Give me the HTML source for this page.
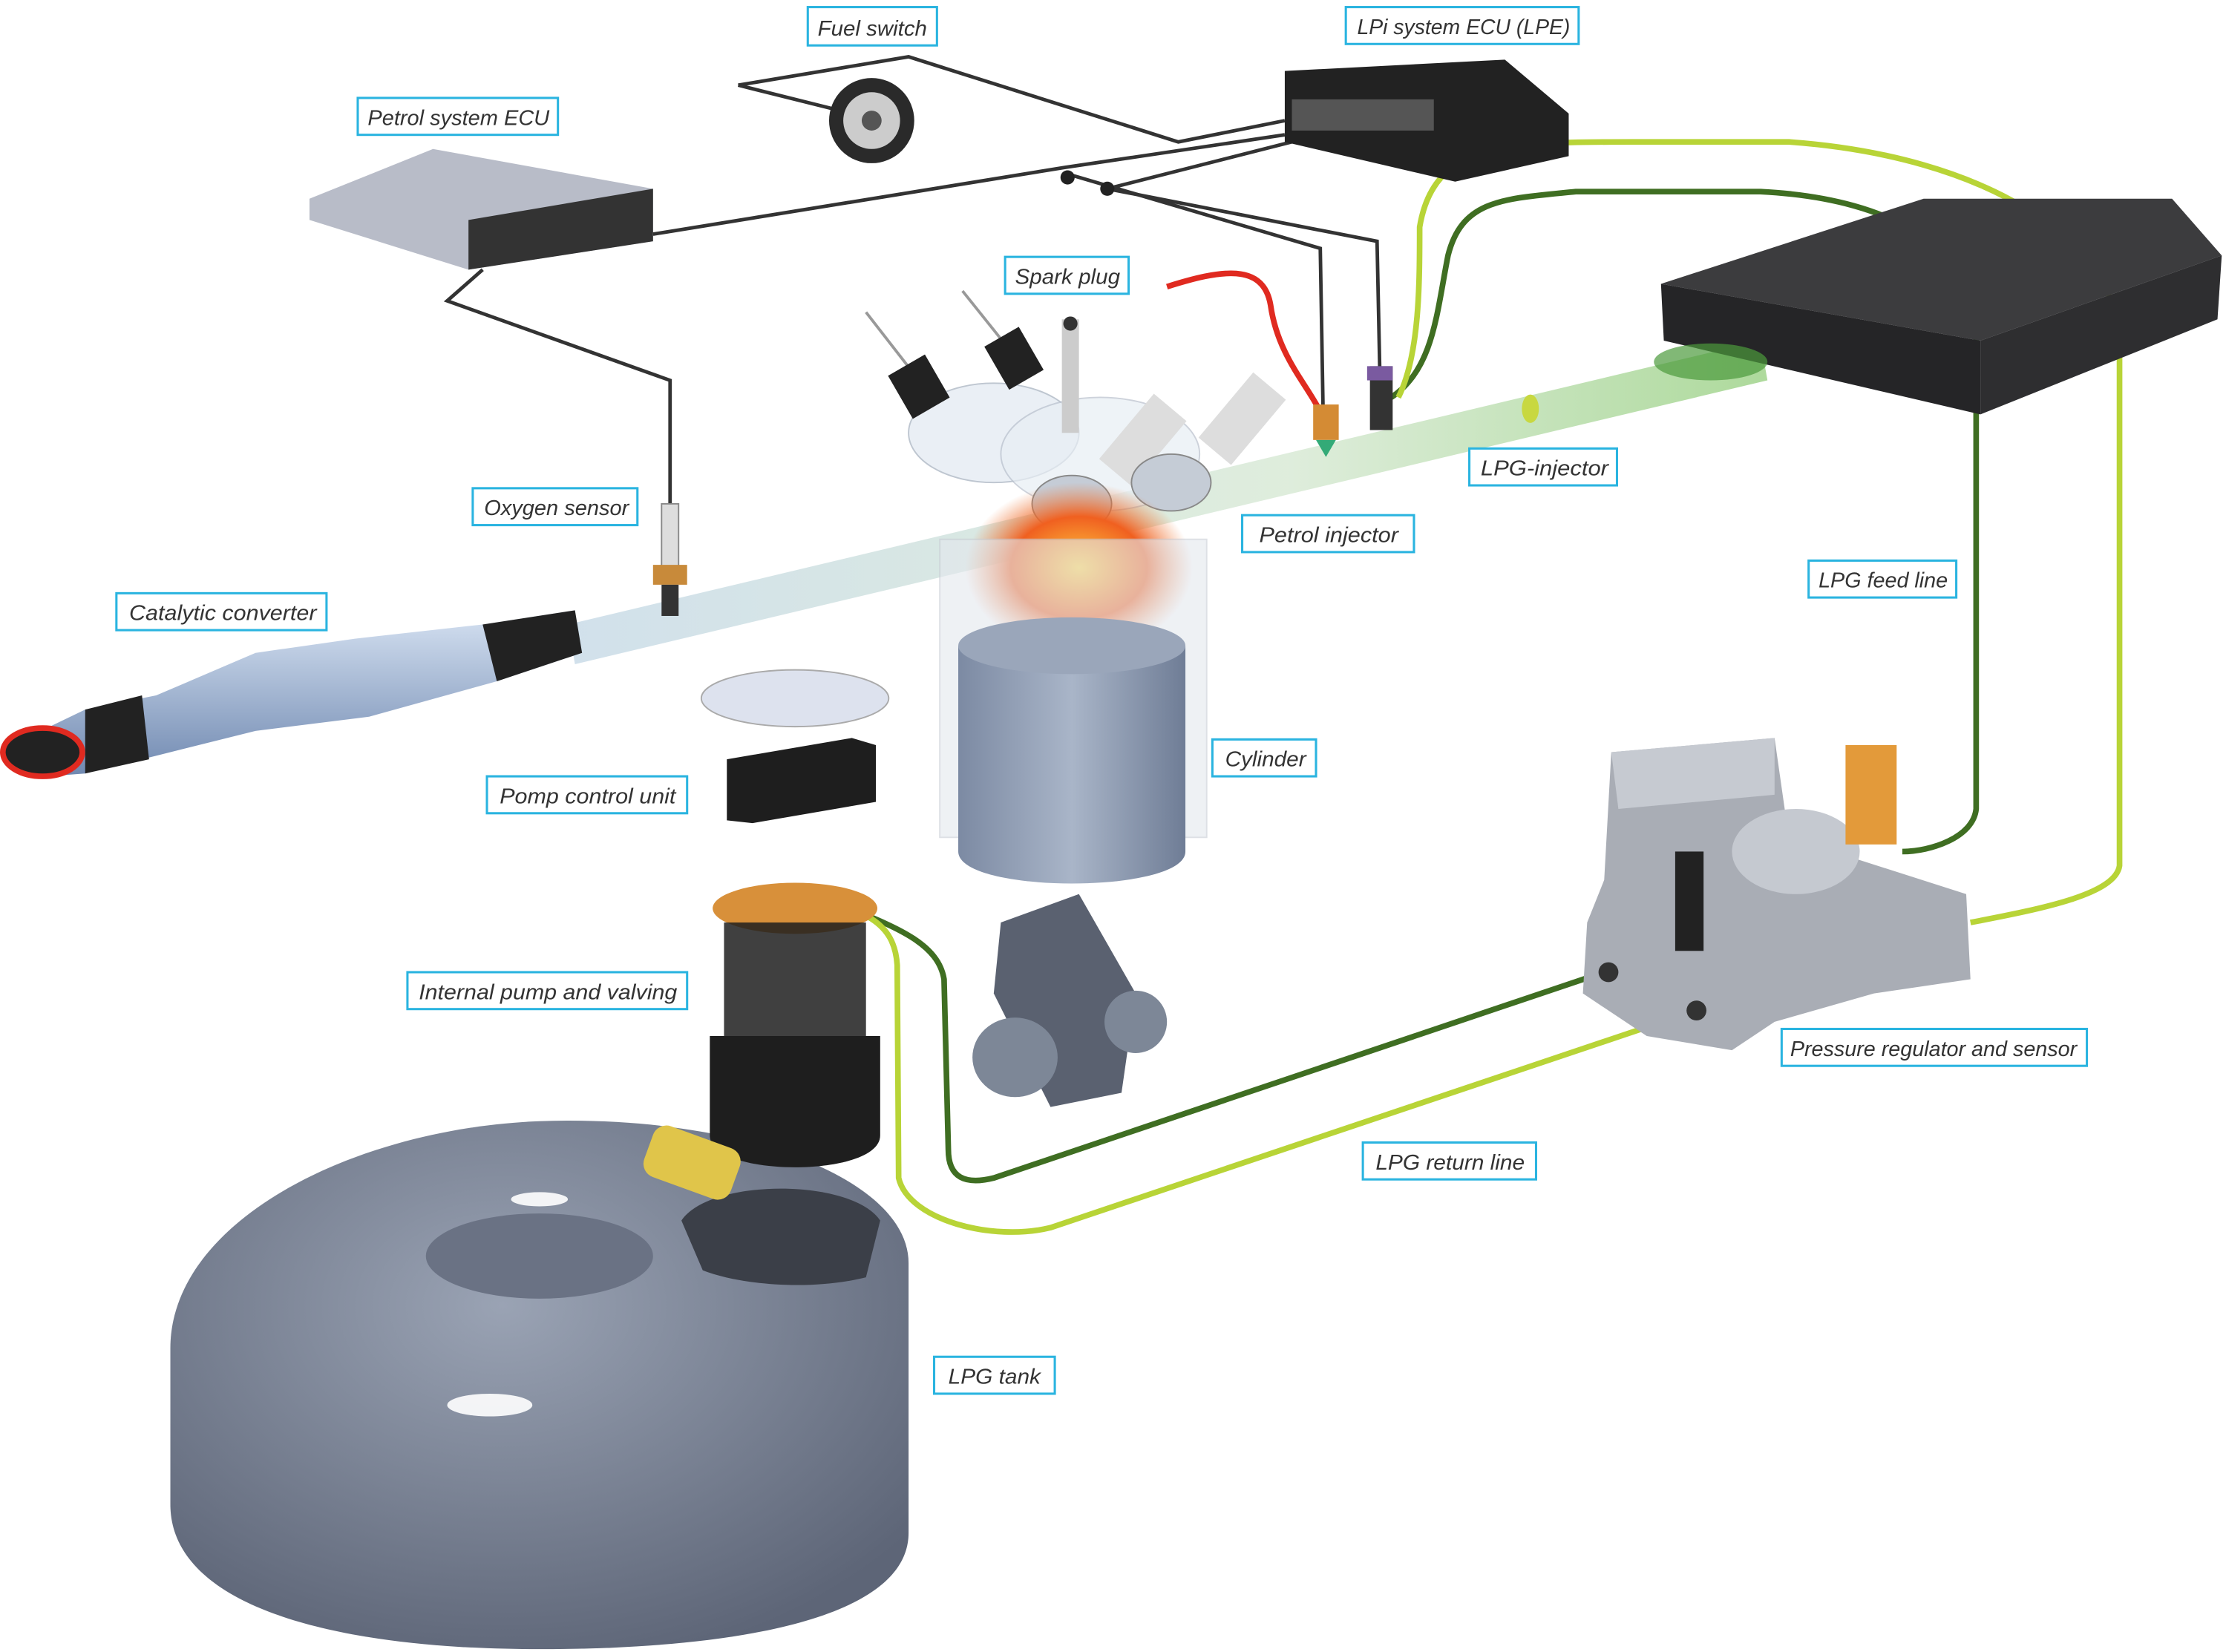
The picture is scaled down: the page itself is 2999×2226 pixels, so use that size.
<!DOCTYPE html>
<html><head><meta charset="utf-8"><style>
html,body{margin:0;padding:0;background:#fff}
svg{display:block}
text{font-family:"Liberation Sans",sans-serif;font-style:italic;font-size:15px;fill:#333}
.lb{fill:#fff;stroke:#2ab4e0;stroke-width:1.6}
.w{fill:none;stroke:#333;stroke-width:2.5}
</style></head><body>
<svg width="2999" height="2226" viewBox="0 0 1568 1164" preserveAspectRatio="none" xmlns="http://www.w3.org/2000/svg">
<defs>
<linearGradient id="pipe" x1="0" y1="0" x2="1" y2="0"><stop offset="0" stop-color="#c9dbe8"/><stop offset="0.6" stop-color="#d9ead6"/><stop offset="1" stop-color="#9fd38a"/></linearGradient>
<radialGradient id="tank" cx="0.45" cy="0.35" r="0.7"><stop offset="0" stop-color="#9aa3b4"/><stop offset="1" stop-color="#5d6577"/></radialGradient>
<linearGradient id="cat" x1="0" y1="0" x2="0" y2="1"><stop offset="0" stop-color="#d6e2f2"/><stop offset="1" stop-color="#6f88b0"/></linearGradient>
<radialGradient id="fire" cx="0.5" cy="0.5" r="0.5"><stop offset="0" stop-color="#ffd040"/><stop offset="0.6" stop-color="#f06020"/><stop offset="1" stop-color="#f08040" stop-opacity="0"/></radialGradient>
<linearGradient id="cyl" x1="0" y1="0" x2="1" y2="0"><stop offset="0" stop-color="#7c8aa3"/><stop offset="0.5" stop-color="#a9b5c8"/><stop offset="1" stop-color="#6f7d96"/></linearGradient>
</defs>

<polygon points="400,440 1240,240 1245,268 405,468" fill="url(#pipe)" opacity="0.85"/>

<polyline class="w" points="520,60 640,40 830,100 905,85"/>
<polyline class="w" points="520,60 600,80"/>
<polyline class="w" points="460,165 750,118 905,95"/>
<polyline class="w" points="750,122 930,175 932,290"/>
<polyline class="w" points="780,133 970,170 972,265"/>
<polyline class="w" points="780,133 910,100"/>
<polyline class="w" points="340,190 315,212 472,268 472,360"/>
<circle cx="752" cy="125" r="5" fill="#222"/><circle cx="780" cy="133" r="5" fill="#222"/>
<path d="M822,202 C860,190 890,185 895,215 C900,250 920,270 930,290" fill="none" stroke="#e02a20" stroke-width="4"/>

<path d="M980,280 C1010,260 1012,220 1020,180 C1030,140 1060,140 1110,135 L1240,135 C1340,140 1390,180 1392,230 L1392,570 C1390,590 1360,600 1340,600" fill="none" stroke="#3f6e22" stroke-width="4"/>
<path d="M985,280 C1000,250 1000,200 1000,160 C1010,100 1060,100 1150,100 L1260,100 C1400,110 1490,170 1493,240 L1493,610 C1490,630 1440,640 1388,650" fill="none" stroke="#b8d437" stroke-width="4"/>
<path d="M1130,685 L700,830 C680,835 668,830 668,810 L665,690 C660,660 620,650 575,630" fill="none" stroke="#3f6e22" stroke-width="4"/>
<path d="M1195,712 L740,865 C700,875 640,860 633,830 L632,680 C630,650 610,640 560,630" fill="none" stroke="#b8d437" stroke-width="4"/>

<circle cx="614" cy="85" r="30" fill="#2a2a2a"/><circle cx="614" cy="85" r="20" fill="#ccc"/><circle cx="614" cy="85" r="7" fill="#555"/>

<polygon points="905,50 1060,42 1105,80 1105,110 1025,128 905,100" fill="#222"/>
<rect x="910" y="70" width="100" height="22" fill="#555"/>

<polygon points="218,140 305,105 460,133 460,170 330,190 218,155" fill="#b8bcc8"/>
<polygon points="330,155 460,133 460,170 330,190" fill="#333"/>

<!-- airbox -->
<polygon points="1170,200 1355,140 1530,140 1565,180 1395,240" fill="#3c3c3e"/>
<polygon points="1170,200 1395,240 1395,292 1172,240" fill="#252527"/>
<polygon points="1395,240 1565,180 1562,225 1395,292" fill="#2e2e30"/>
<ellipse cx="1205" cy="255" rx="40" ry="13" fill="#4c9a3c" opacity="0.7"/>

<rect x="925" y="285" width="18" height="25" fill="#d48b34"/><polygon points="927,310 941,310 934,322" fill="#3a7"/>
<rect x="965" y="258" width="16" height="45" fill="#333"/><rect x="963" y="258" width="18" height="10" fill="#7a5aa0"/>
<ellipse cx="1078" cy="288" rx="6" ry="10" fill="#c8d840"/>

<polygon points="8,525 60,500 110,490 180,460 250,450 340,440 405,430 410,460 350,480 260,505 180,515 100,535 60,545 20,548" fill="url(#cat)"/>
<polygon points="340,440 405,430 410,460 350,480" fill="#222"/>
<polygon points="60,500 100,490 105,535 60,545" fill="#222"/>
<ellipse cx="30" cy="530" rx="28" ry="17" fill="#222" stroke="#e02a20" stroke-width="4"/>

<rect x="466" y="355" width="12" height="45" fill="#ddd" stroke="#888"/>
<rect x="460" y="398" width="24" height="14" fill="#c88a3a"/><rect x="466" y="412" width="12" height="22" fill="#333"/>

<ellipse cx="700" cy="305" rx="60" ry="35" fill="#e8eef4" stroke="#b8c0cc" opacity="0.9"/>
<ellipse cx="775" cy="320" rx="70" ry="40" fill="#e8eef4" stroke="#b8c0cc" opacity="0.7"/>
<line x1="610" y1="220" x2="645" y2="265" stroke="#999" stroke-width="2"/><rect x="632" y="255" width="30" height="35" fill="#222" transform="rotate(-30 647 272)"/>
<line x1="678" y1="205" x2="710" y2="245" stroke="#999" stroke-width="2"/><rect x="700" y="235" width="28" height="35" fill="#222" transform="rotate(-30 714 252)"/>
<rect x="748" y="225" width="12" height="80" fill="#ccc"/><circle cx="754" cy="228" r="5" fill="#333"/>
<rect x="790" y="280" width="30" height="60" fill="#ddd" transform="rotate(40 805 310)"/>
<rect x="860" y="265" width="30" height="60" fill="#ddd" transform="rotate(40 875 295)"/>
<ellipse cx="755" cy="355" rx="28" ry="20" fill="#c5ccd6" stroke="#888"/>
<ellipse cx="825" cy="340" rx="28" ry="20" fill="#c5ccd6" stroke="#888"/>
<ellipse cx="760" cy="400" rx="80" ry="60" fill="url(#fire)"/>

<rect x="662" y="380" width="188" height="210" fill="#e4e8ee" opacity="0.6" stroke="#c8ccd4"/>
<path d="M675,455 L835,455 L835,600 C835,630 675,630 675,600 Z" fill="url(#cyl)"/>
<ellipse cx="755" cy="455" rx="80" ry="20" fill="#9aa6ba"/>
<polygon points="705,650 760,630 800,700 790,770 740,780 700,700" fill="#5a6170"/>
<ellipse cx="715" cy="745" rx="30" ry="28" fill="#7d8797"/>
<ellipse cx="800" cy="720" rx="22" ry="22" fill="#7d8797"/>

<ellipse cx="560" cy="492" rx="66" ry="20" fill="#dde2ee" stroke="#aaa"/>
<polygon points="512,535 600,520 617,525 617,565 530,580 512,578" fill="#1e1e1e"/>

<path d="M120,950 C120,860 250,795 380,790 C520,785 640,830 640,890 L640,1080 C640,1140 520,1162 380,1162 C230,1162 120,1130 120,1060 Z" fill="url(#tank)"/>
<ellipse cx="380" cy="885" rx="80" ry="30" fill="#6a7284"/>
<ellipse cx="345" cy="990" rx="30" ry="8" fill="#fff" opacity="0.9"/>
<ellipse cx="380" cy="845" rx="20" ry="5" fill="#fff" opacity="0.9"/>
<path d="M480,860 C500,830 600,830 620,860 L610,900 C570,910 520,905 495,895 Z" fill="#3b3f48"/>

<ellipse cx="560" cy="640" rx="58" ry="18" fill="#d8903a"/>
<rect x="510" y="650" width="100" height="80" fill="#1e1e1e" opacity="0.85"/>
<path d="M500,730 L620,730 L620,800 C620,830 500,830 500,800 Z" fill="#1e1e1e"/>
<rect x="455" y="800" width="65" height="38" rx="10" fill="#e0c54a" transform="rotate(20 487 819)"/>

<polygon points="1135,530 1250,520 1260,590 1385,630 1388,690 1320,700 1250,720 1220,740 1160,730 1115,700 1118,650 1130,620" fill="#a9adb5"/>
<polygon points="1135,530 1250,520 1250,560 1140,570" fill="#c6cad1"/>
<ellipse cx="1265" cy="600" rx="45" ry="30" fill="#c5c9d0"/>
<rect x="1300" y="525" width="36" height="70" fill="#e39a3a"/>
<rect x="1180" y="600" width="20" height="70" fill="#222"/>
<circle cx="1133" cy="685" r="7" fill="#333"/><circle cx="1195" cy="712" r="7" fill="#333"/>

<g>
<rect class="lb" x="569" y="5" width="91" height="27"/><text x="576" y="25" textLength="77" lengthAdjust="spacingAndGlyphs">Fuel switch</text>
<rect class="lb" x="948" y="5" width="164" height="26"/><text x="956" y="24" textLength="150" lengthAdjust="spacingAndGlyphs">LPi system ECU (LPE)</text>
<rect class="lb" x="252" y="69" width="141" height="26"/><text x="259" y="88" textLength="128" lengthAdjust="spacingAndGlyphs">Petrol system ECU</text>
<rect class="lb" x="708" y="181" width="87" height="26"/><text x="715" y="200" textLength="74" lengthAdjust="spacingAndGlyphs">Spark plug</text>
<rect class="lb" x="1035" y="316" width="104" height="26"/><text x="1043" y="335" textLength="90" lengthAdjust="spacingAndGlyphs">LPG-injector</text>
<rect class="lb" x="333" y="344" width="116" height="26"/><text x="341" y="363" textLength="102" lengthAdjust="spacingAndGlyphs">Oxygen sensor</text>
<rect class="lb" x="875" y="363" width="121" height="26"/><text x="887" y="382" textLength="98" lengthAdjust="spacingAndGlyphs">Petrol injector</text>
<rect class="lb" x="82" y="418" width="148" height="26"/><text x="91" y="437" textLength="132" lengthAdjust="spacingAndGlyphs">Catalytic converter</text>
<rect class="lb" x="1274" y="395" width="104" height="26"/><text x="1281" y="414" textLength="91" lengthAdjust="spacingAndGlyphs">LPG feed line</text>
<rect class="lb" x="854" y="521" width="73" height="26"/><text x="863" y="540" textLength="57" lengthAdjust="spacingAndGlyphs">Cylinder</text>
<rect class="lb" x="343" y="547" width="141" height="26"/><text x="352" y="566" textLength="124" lengthAdjust="spacingAndGlyphs">Pomp control unit</text>
<rect class="lb" x="287" y="685" width="197" height="26"/><text x="295" y="704" textLength="182" lengthAdjust="spacingAndGlyphs">Internal pump and valving</text>
<rect class="lb" x="1255" y="725" width="215" height="26"/><text x="1261" y="744" textLength="202" lengthAdjust="spacingAndGlyphs">Pressure regulator and sensor</text>
<rect class="lb" x="960" y="805" width="122" height="26"/><text x="969" y="824" textLength="105" lengthAdjust="spacingAndGlyphs">LPG return line</text>
<rect class="lb" x="658" y="956" width="85" height="26"/><text x="668" y="975" textLength="65" lengthAdjust="spacingAndGlyphs">LPG tank</text>
</g>
</svg>
</body></html>
